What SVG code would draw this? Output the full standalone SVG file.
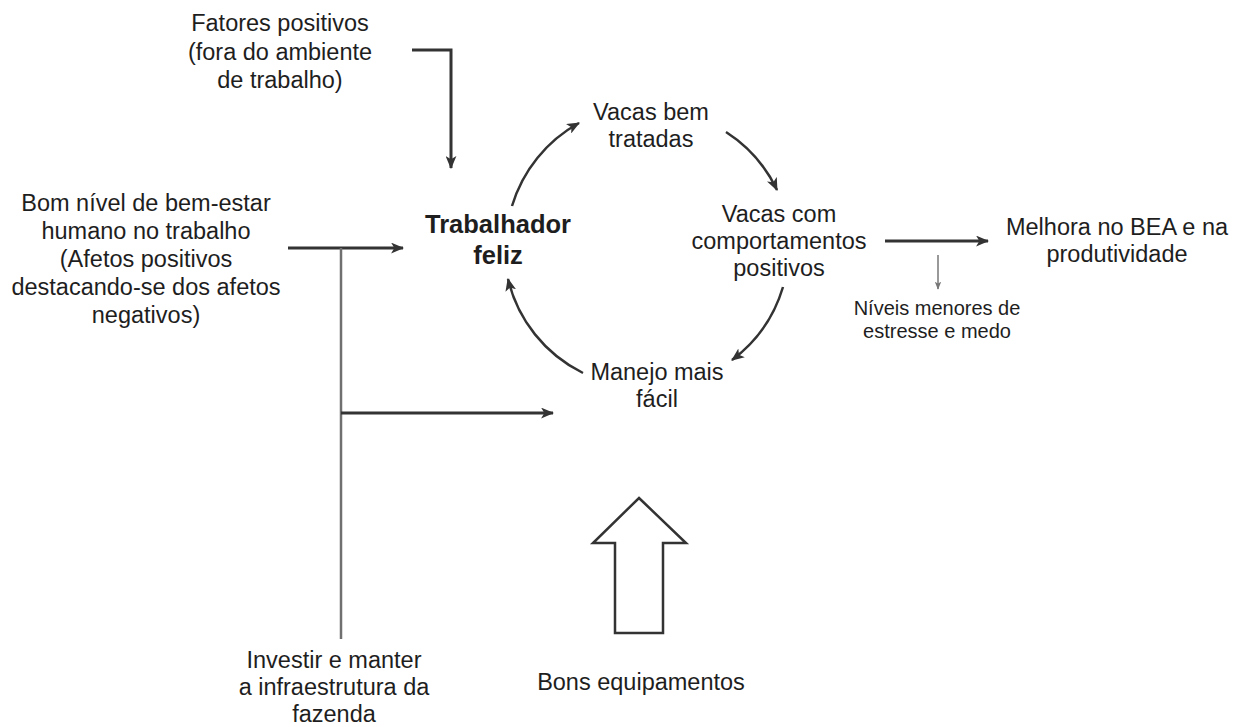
<svg xmlns="http://www.w3.org/2000/svg" width="1236" height="727" viewBox="0 0 1236 727">
  <defs>
    <style>
      text { font-family: "Liberation Sans", Arial, sans-serif; fill: #1e1e1e; text-anchor: middle; }
      .t { font-size: 23.5px; }
      .b { font-size: 25.5px; font-weight: bold; }
      .s { font-size: 20px; }
      .link { fill: none; stroke: #333; stroke-width: 3; }
      .cyc { fill: none; stroke: #333; stroke-width: 2.5; }
      .feed { fill: none; stroke: #707070; stroke-width: 2.5; }
      .thin { fill: none; stroke: #777; stroke-width: 1.5; }
    </style>
    <marker id="ah" viewBox="0 0 12 10" refX="11" refY="5" markerWidth="13" markerHeight="11" orient="auto" markerUnits="userSpaceOnUse">
      <path d="M0,0 L12,5 L0,10 L3,5 z" fill="#333"/>
    </marker>
    <marker id="ahs" viewBox="0 0 10 8" refX="9" refY="4" markerWidth="8" markerHeight="7" orient="auto" markerUnits="userSpaceOnUse">
      <path d="M0,0 L10,4 L0,8 L2,4 z" fill="#777"/>
    </marker>
  </defs>
  <rect width="1236" height="727" fill="#fff"/>

  <!-- connectors -->
  <g id="connectors">
    <!-- outside factors into the worker -->
    <path class="link" d="M412,50 H451 V168" marker-end="url(#ah)"/>
    <!-- human well-being into the worker -->
    <path class="link" d="M288,248 H403" marker-end="url(#ah)"/>
    <!-- infrastructure trunk and branch -->
    <path class="feed" d="M341,248 V639"/>
    <path class="link" d="M341,413 H553" marker-end="url(#ah)"/>
    <!-- virtuous cycle -->
    <path class="cyc" d="M512,206 A141,141 0 0 1 579,123" marker-end="url(#ah)"/>
    <path class="cyc" d="M726,132 A141,141 0 0 1 777,190" marker-end="url(#ah)"/>
    <path class="cyc" d="M783,287 A141,141 0 0 1 732,360" marker-end="url(#ah)"/>
    <path class="cyc" d="M583,373 A141,141 0 0 1 508,279" marker-end="url(#ah)"/>
    <!-- outcomes -->
    <path class="link" d="M885,241 H988" marker-end="url(#ah)"/>
    <path class="thin" d="M938,255 V289" marker-end="url(#ahs)"/>
    <!-- equipment block arrow -->
    <path d="M639,498 L686,543 L663,543 L663,633 L615,633 L615,543 L593,543 Z" fill="#fff" stroke="#333" stroke-width="2.5" stroke-linejoin="miter"/>
  </g>

  <g id="fatores">
    <text class="t" x="280" y="31">Fatores positivos</text>
    <text class="t" x="280" y="60">(fora do ambiente</text>
    <text class="t" x="280" y="88">de trabalho)</text>
  </g>

  <g id="bem-estar">
    <text class="t" x="146" y="211">Bom nível de bem-estar</text>
    <text class="t" x="146" y="239">humano no trabalho</text>
    <text class="t" x="146" y="267">(Afetos positivos</text>
    <text class="t" x="146" y="295">destacando-se dos afetos</text>
    <text class="t" x="146" y="323">negativos)</text>
  </g>

  <g id="trabalhador">
    <text class="b" x="498" y="233">Trabalhador</text>
    <text class="b" x="498" y="264">feliz</text>
  </g>

  <g id="vacas-tratadas">
    <text class="t" x="651" y="120">Vacas bem</text>
    <text class="t" x="651" y="147">tratadas</text>
  </g>

  <g id="vacas-comportamento">
    <text class="t" x="779" y="222">Vacas com</text>
    <text class="t" x="779" y="249">comportamentos</text>
    <text class="t" x="779" y="276">positivos</text>
  </g>

  <g id="manejo">
    <text class="t" x="657" y="380">Manejo mais</text>
    <text class="t" x="657" y="407">fácil</text>
  </g>

  <g id="melhora">
    <text class="t" x="1117" y="235">Melhora no BEA e na</text>
    <text class="t" x="1117" y="262">produtividade</text>
  </g>

  <g id="niveis">
    <text class="s" x="937" y="315">Níveis menores de</text>
    <text class="s" x="937" y="338">estresse e medo</text>
  </g>

  <g id="infraestrutura">
    <text class="t" x="334" y="668">Investir e manter</text>
    <text class="t" x="334" y="695">a infraestrutura da</text>
    <text class="t" x="334" y="722">fazenda</text>
  </g>

  <g id="equipamentos">
    <text class="t" x="641" y="690">Bons equipamentos</text>
  </g>
</svg>
